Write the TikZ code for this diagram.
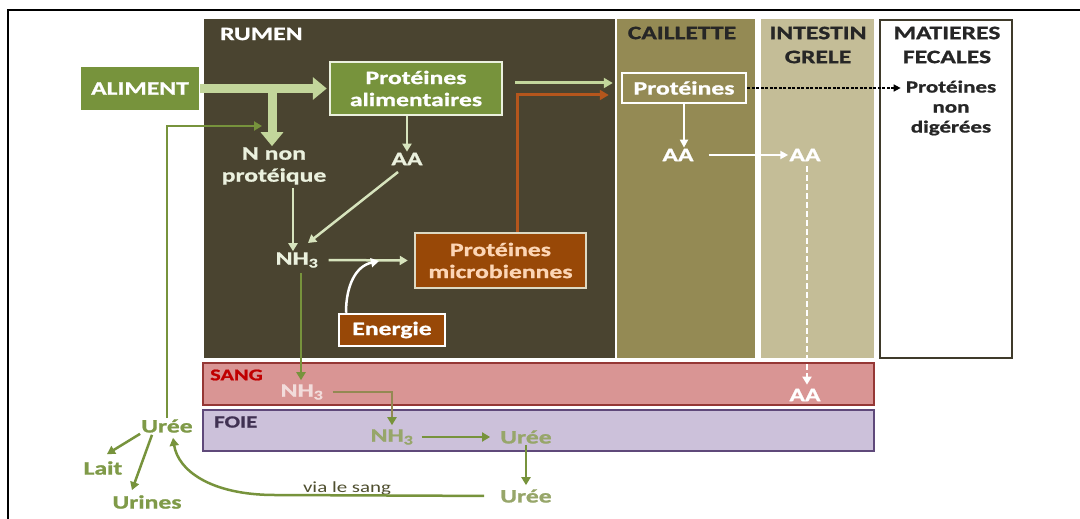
\documentclass[tikz,border=0pt]{standalone}
\usepackage{fontspec}
\setmainfont{Carlito}[FakeStretch=1.35, BoldFeatures={FakeBold=1}]
\usetikzlibrary{arrows.meta,calc}
\definecolor{rumenC}{HTML}{4A4430}
\definecolor{caillC}{HTML}{948A54}
\definecolor{intC}{HTML}{C4BD97}
\definecolor{fecC}{HTML}{3F3A2A}
\definecolor{sangC}{HTML}{D99594}
\definecolor{sangB}{HTML}{953735}
\definecolor{foieC}{HTML}{CCC1DA}
\definecolor{foieB}{HTML}{5F497A}
\definecolor{vertC}{HTML}{77933C}
\definecolor{vertL}{HTML}{C3D69B}
\definecolor{vertP}{HTML}{D7E4BD}
\definecolor{paleT}{HTML}{EBF1DE}
\definecolor{orgC}{HTML}{984807}
\definecolor{orgL}{HTML}{B5561C}
\definecolor{peachT}{HTML}{FCD5B5}
\definecolor{beigeB}{HTML}{DDD9C3}
\definecolor{khakiC}{HTML}{938953}
\definecolor{foieT}{HTML}{97A66A}
\definecolor{ureeT}{HTML}{7F9A48}
\definecolor{sangT}{HTML}{C00000}
\definecolor{foieL}{HTML}{403152}
\definecolor{darkT}{HTML}{262626}
\definecolor{viaT}{HTML}{4F4F2F}
\definecolor{sangNH}{HTML}{F2DCDB}
\begin{document}
\begin{tikzpicture}[x=1pt,y=-1pt,
  every node/.style={font=\bfseries\fontsize{19}{22}\selectfont, inner sep=1pt},
  boxnode/.style={draw, line width=2.5pt, align=center, inner sep=0pt},
  thickarr/.style={vertL, line width=9pt, -{Triangle[length=14pt,width=22pt]}},
  parr/.style={vertP, line width=2.5pt, -{Triangle[length=8pt,width=9pt]}},
  garr/.style={vertC, line width=2.5pt, -{Triangle[length=8pt,width=9pt]}},
  warr/.style={white, line width=2pt, -{Triangle[length=8pt,width=8pt]}},
  larr/.style={vertL, line width=3pt, -{Triangle[length=9pt,width=10pt]}},
  oarr/.style={orgL, line width=3pt, -{Triangle[length=9pt,width=10pt]}},
  karr/.style={khakiC, line width=2.5pt, -{Triangle[length=8pt,width=9pt,color=vertC]}}
]
\useasboundingbox (0,0) rectangle (1080,519);
\fill[white] (0,0) rectangle (1080,519);
\draw[line width=1.5pt] (8,519) -- (8,10) -- (1080,10);

% panels
\fill[rumenC] (204,19) rectangle (615,358);
\fill[caillC] (617,19) rectangle (755,358);
\fill[intC] (761,19) rectangle (874,358);
\draw[fecC, line width=2.5pt, fill=white] (880,20) rectangle (1012,358);
\draw[sangB, line width=1.5pt, fill=sangC] (203,363) rectangle (874,405);
\draw[foieB, line width=1.5pt, fill=foieC] (203,410) rectangle (874,451);

% panel labels
\node[anchor=west, white] (lrumen) at (219,34) {RUMEN};
\node[darkT] (lcaill) at (682,33) {CAILLETTE};
\node[darkT, align=center] (lint) at (818,45) {INTESTIN\\[2pt]GRELE};
\node[darkT, align=center] (lfec) at (947,45) {MATIERES\\[2pt]FECALES};
\node[anchor=west, sangT, font=\bfseries\fontsize{16.5}{18}\selectfont] (lsang) at (209,375) {SANG};
\node[anchor=west, foieL, font=\bfseries\fontsize{17}{18}\selectfont] (lfoie) at (213,422) {FOIE};

% nodes
\node[boxnode, fill=vertC, draw=none, text=white, minimum width=118pt, minimum height=43pt] (aliment) at (140,88.5) {ALIMENT};
\node[boxnode, fill=vertC, draw=paleT, text=white, minimum width=172pt, minimum height=53pt] (palim) at (416,88.5) {Protéines\\alimentaires};
\node[paleT, align=center] (nnp) at (274,166) {N non\\protéique};
\node[paleT] (aaR) at (407,159) {AA};
\node[paleT] (nh3R) at (297,260) {NH\textsubscript{3}};
\node[boxnode, fill=orgC, draw=beigeB, text=peachT, minimum width=171pt, minimum height=55pt] (pmic) at (500.5,260.5) {Protéines\\microbiennes};
\node[boxnode, fill=orgC, draw=white, text=white, minimum width=106pt, minimum height=32pt] (energie) at (392,330) {Energie};
\node[boxnode, fill=caillC, draw=white, text=white, minimum width=124pt, minimum height=30pt] (cprot) at (684,88) {Protéines};
\node[darkT, align=center, font=\bfseries\fontsize{17}{20}\selectfont] (pnd) at (951,108) {Protéines\\non\\digérées};
\node[white] (aaC) at (678,155) {AA};
\node[white] (aaI) at (805,155) {AA};
\node[white] (aaS) at (805,395) {AA};
\node[sangNH] (nh3S) at (302,392) {NH\textsubscript{3}};
\node[foieT] (nh3F) at (392,437) {NH\textsubscript{3}};
\node[foieT] (ureeF) at (526,437) {Urée};
\node[foieT] (ureeB) at (526,496) {Urée};
\node[ureeT] (ureeL) at (167,426) {Urée};
\node[ureeT] (lait) at (103,468) {Lait};
\node[ureeT] (urines) at (147,502) {Urines};
\node[viaT, font=\fontsize{15.5}{18}\selectfont, anchor=base] (via) at (347,492) {via le sang};

% coordinates
\coordinate (branch) at (272,88.5);
\coordinate (loopend) at (262,126);
\coordinate (nnpx) at ($(nh3R.north)+(-4,0)$);
\coordinate (ejoin) at (379,261);
\coordinate (gstart) at (515,83);
\coordinate (aax) at ($(aaI.south)+(2,0)$);
\coordinate (nhx) at ($(nh3R.south)+(4,0)$);
\coordinate (vturn) at (275,495);

% connectors
\draw[thickarr, shorten >=2pt] (aliment.east) -- (palim.west);
\draw[thickarr] (branch) -- (branch |- nnp.north);
\draw[garr] (ureeL.north) |- (loopend);
\draw[parr] (aaR |- palim.south) -- (aaR.north);
\draw[parr, shorten <=2pt] (nnpx |- nnp.south) -- (nnpx);
\draw[parr] ($(aaR.center)+(-9,13)$) -- ($(nh3R.center)+(11,-17)$);
\draw[parr, shorten <=9pt, shorten >=6pt] (nh3R.east) -- (pmic.west);
\draw[white, line width=2.5pt, -{Triangle[length=8pt,width=9pt]}] ($(energie.north)+(-46,0)$) .. controls (346,285) and (356,266) .. (ejoin);
\draw[larr, shorten >=8pt] (gstart) -- (gstart -| cprot.west);
\draw[oarr] ($(pmic.north)+(16.5,0)$) |- ($(cprot.west)+(-12,7)$);
\draw[black, line width=1.5pt, dash pattern=on 3pt off 1.5pt, -{Triangle[length=7pt,width=7pt]}, shorten >=4pt] (cprot.east) -- (cprot.east -| pnd.west);
\draw[warr] (cprot.south) -- (cprot.south |- aaC.north);
\draw[warr, shorten <=14pt] (aaC.east) -- (aaI.west);
\draw[white, line width=2.5pt, dash pattern=on 6pt off 3pt, -{Triangle[length=8pt,width=9pt]}, shorten <=4pt, shorten >=3pt] (aax) -- (aax |- aaS.north);
\draw[garr, shorten <=4pt, shorten >=3pt] (nhx) -- (nhx |- nh3S.north);
\draw[karr, shorten <=8pt, shorten >=3pt] (nh3S.east) -| (nh3F.north);
\draw[garr, shorten <=7pt, shorten >=9pt] (nh3F.east) -- (ureeF.west);
\draw[garr, shorten >=3pt] (ureeF.south) -- (ureeF.south |- ureeB.north);
\draw[garr, shorten <=15pt] (ureeB.west) -- (vturn) .. controls (210,495) and (178,470) .. ($(ureeL.south)+(6,4)$);
\draw[garr] (ureeL.south west) -- ($(lait.north)+(4,-6)$);
\draw[garr] ($(ureeL.south)+(-15,1)$) -- ($(urines.north)+(-15,-4)$);
\end{tikzpicture}
\end{document}
